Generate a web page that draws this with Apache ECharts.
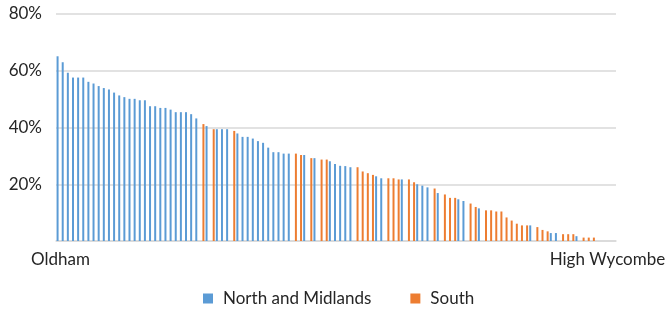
<!DOCTYPE html>
<html>
<head>
<meta charset="utf-8">
<script src="https://cdn.jsdelivr.net/npm/echarts@6/dist/echarts.min.js"></script>
<style>
  html, body { margin: 0; padding: 0; background: #ffffff; }
  #chart { width: 669px; height: 332px; }
</style>
</head>
<body>
<div id="chart"></div>
<script>
// ---- data (percent) ----
var values = [
  65.1, 63.0, 59.3, 57.6, 57.6, 57.6, 56.1, 55.5, 54.6, 53.9, 53.4, 52.3, 51.3, 50.7, 50.1, 50.1, 49.6, 49.6,
  47.5, 47.5, 46.9, 46.9, 46.3, 45.4, 45.4, 45.4, 44.7, 43.2, 41.2, 40.5, 39.4, 39.4, 39.4, 39.4, 38.8, 37.9, 36.7,
  36.7, 36.1, 35.2, 34.6, 32.9, 31.3, 31.3, 30.8, 30.8, 30.8, 30.3, 30.3, 29.2, 29.2, 28.7, 28.7, 28.1, 27.1, 26.5,
  26.4, 26.0, 26.0, 24.5, 23.9, 23.3, 22.8, 22.1, 22.1, 22.1, 21.7, 21.7, 21.7, 20.7, 20.0, 19.5, 18.9, 18.5,
  16.9, 16.4, 15.2, 15.2, 14.7, 14.1, 13.2, 12.0, 11.5, 10.8, 10.8, 10.4, 10.4, 8.3, 7.2, 6.1, 5.5, 5.5, 5.5,
  4.9, 3.9, 3.4, 2.8, 2.8, 2.4, 2.4, 2.4, 1.7, 1.2, 1.2, 1.2,
  0, 0, 0, 0
];
var regions = [
  'N','N','N','N','N','N','N','N','N','N','N','N','N','N','N','N','N','N',
  'N','N','N','N','N','N','N','N','N','N','S','N','S','N','N','N','S','N','N',
  'N','N','N','N','N','N','N','N','N','S','S','N','S','N','S','S','N','N','N',
  'N','N','S','S','S','S','N','N','S','S','S','N','S','S','N','N','N','S',
  'N','S','S','S','N','N','S','S','N','S','S','S','S','S','S','S','S','S','N',
  'S','S','S','N','N','S','S','S','N','S','S','S',
  'S','S','S','S'
];
var seriesNames = ['North and Midlands', 'South'];
var tickLabels = ['Oldham', 'High Wycombe'];
var yTicks = [0, 20, 40, 60, 80];

// ---- build ----
var categories = values.map(function (v, i) { return 'c' + i; });
var northData = values.map(function (v, i) { return regions[i] === 'N' ? v : null; });
var southData = values.map(function (v, i) { return regions[i] === 'S' ? v : null; });
var lastIdx = values.length - 1;

var font = 'Lato, "Open Sans", sans-serif';
var textColor = '#262626';

var chart = echarts.init(document.getElementById('chart'), null, { renderer: 'canvas' });
chart.setOption({
  animation: false,
  backgroundColor: '#ffffff',
  grid: { left: 56, right: 53, top: 14, bottom: 91, containLabel: false },
  legend: {
    data: seriesNames,
    left: 198,
    top: 285,
    icon: 'rect',
    itemWidth: 10,
    itemHeight: 10,
    itemGap: 39,
    textStyle: { fontFamily: font, fontSize: 17, color: textColor, padding: [0, 0, 0, 5] }
  },
  xAxis: {
    type: 'category',
    data: categories,
    boundaryGap: true,
    axisLine: { show: true, lineStyle: { color: '#d9d9d9', width: 1.5 } },
    axisTick: { show: false },
    splitLine: { show: false },
    axisLabel: {
      interval: 0,
      hideOverlap: false,
      margin: 10,
      fontFamily: font,
      fontSize: 17,
      color: textColor,
      formatter: function (val, idx) {
        if (idx === 0) return '{a|' + tickLabels[0] + '}';
        if (idx === lastIdx) return '{b|' + tickLabels[1] + '}';
        return '';
      },
      rich: {
        a: { fontFamily: font, fontSize: 17, color: textColor, padding: [0, 0, 0, 4] },
        b: { fontFamily: font, fontSize: 17, color: textColor, padding: [0, 12, 0, 0] }
      }
    }
  },
  yAxis: {
    type: 'value',
    min: yTicks[0],
    max: yTicks[yTicks.length - 1],
    interval: yTicks[1] - yTicks[0],
    axisLine: { show: false },
    axisTick: { show: false },
    splitLine: { show: true, lineStyle: { color: '#d9d9d9', width: 1.5 } },
    axisLabel: {
      margin: 14,
      fontFamily: font,
      fontSize: 17,
      color: textColor,
      formatter: function (v) { return v === 0 ? '' : v + '%'; }
    }
  },
  series: [
    {
      name: seriesNames[0],
      type: 'bar',
      data: northData,
      barWidth: 2,
      barGap: '0%',
      itemStyle: { color: '#5B9BD5' }
    },
    {
      name: seriesNames[1],
      type: 'bar',
      data: southData,
      barWidth: 2,
      barGap: '0%',
      itemStyle: { color: '#ED7D31' }
    }
  ]
});
</script>
</body>
</html>
